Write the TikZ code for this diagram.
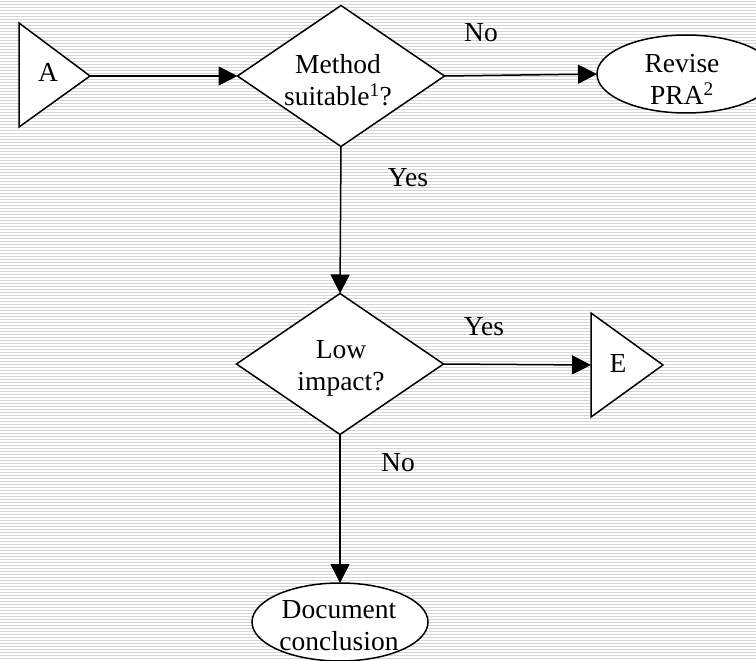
\documentclass[tikz,border=0pt]{standalone}
\usepackage{fontspec}
\setmainfont{Liberation Serif}
\usetikzlibrary{shapes.geometric,arrows.meta}
\begin{document}
\begin{tikzpicture}[x=1pt,y=-1pt,
  bgline/.style={draw={rgb,255:red,214;green,214;blue,214},line width=0.9pt},
  shapeline/.style={draw=black,line width=1.5pt,fill=white},
  decision/.style={shapeline,diamond,inner sep=0pt,outer sep=0pt,aspect=1.47,
    minimum width=207pt,minimum height=141pt,align=center},
  terminal/.style={shapeline,ellipse,inner sep=0pt,outer sep=0pt,
    minimum width=178pt,minimum height=78pt,align=center},
  flow/.style={line width=1.5pt,-{Triangle[length=19pt,width=19pt]}},
  lbl/.style={anchor=base,inner sep=0pt},
  every node/.style={font=\fontsize{27.5}{32}\selectfont}
]
\useasboundingbox (0,0) rectangle (756,661);
\fill[white] (0,0) rectangle (756,661);
\foreach \i in {0,...,220} \draw[bgline] (0,\i*3+1) -- (756,\i*3+1);

% triangle A
\draw[shapeline,line join=miter] (19,23) -- (90,76) -- (19,127) -- cycle;
\coordinate (Aout) at (90,76);
\node[lbl] (A) at (48,82) {A};

% diamond 1
\node[decision] (d1) at (341,76) {};
\node (d1t) at (338,80) [align=center,inner sep=0pt] {Method\\suitable\textsuperscript{1}?};

% Revise ellipse
\node[terminal] (rev) at (686,74) {};
\node (revt) at (682,79) [align=center,inner sep=0pt] {Revise\\PRA\textsuperscript{2}};

% diamond 2
\node[decision] (d2) at (340,364) {};
\node (d2t) at (341,368) [align=center,inner sep=0pt] {Low\\impact?};

% triangle E
\draw[shapeline,line join=miter] (591,313) -- (663,365) -- (591,417) -- cycle;
\coordinate (Ein) at (591,365);
\node[lbl] (E) at (618,372) {E};

% Document ellipse
\node[terminal,minimum width=176pt] (doc) at (340,622) {};
\node (doct) at (339,626) [align=center,inner sep=0pt] {Document\\conclusion};

% connectors
\draw[flow] (Aout) -- (d1.west);
\draw[flow] (d1.east) -- (rev.west);
\draw[flow] (d1.south) -- (d2.north);
\draw[flow] (d2.east) -- (Ein);
\draw[flow] (d2.south) -- (doc.north);

% labels
\node[lbl] (l1) at (481,42) {No};
\node[lbl] (l2) at (408,186) {Yes};
\node[lbl] (l3) at (484,335) {Yes};
\node[lbl] (l4) at (398,471) {No};
\end{tikzpicture}
\end{document}
